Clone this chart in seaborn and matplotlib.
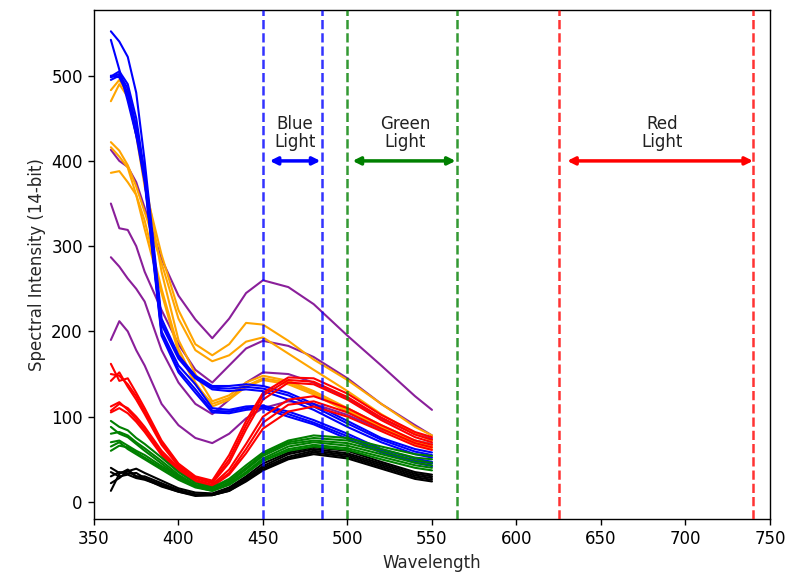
import matplotlib
matplotlib.use("Agg")
import matplotlib.pyplot as plt
import numpy as np
import pandas as pd
import seaborn as sns

# Sampled wavelengths (nm) shared by every spectrum
wavelength = [360, 365, 370, 375, 380, 390, 400, 410, 420, 430, 440, 450, 465, 480, 500, 520, 540, 550]

# Spectra grouped by the colour of the sample
blue_spectra = [
    [552, 540, 522, 480, 400, 215, 172, 148, 136, 136, 138, 136, 128, 115, 95, 75, 62, 58],
    [542, 507, 470, 430, 390, 210, 170, 146, 134, 133, 135, 133, 125, 112, 92, 73, 59, 55],
    [499, 505, 490, 450, 385, 208, 168, 145, 132, 130, 132, 130, 120, 108, 88, 70, 56, 52],
    [498, 502, 485, 440, 380, 200, 160, 138, 110, 108, 112, 113, 106, 96, 80, 62, 51, 47],
    [495, 500, 480, 435, 378, 198, 155, 132, 107, 106, 110, 112, 103, 93, 77, 60, 48, 45],
    [500, 498, 478, 430, 375, 195, 152, 128, 105, 104, 108, 110, 100, 91, 74, 58, 46, 42],
]
orange_spectra = [
    [483, 495, 478, 430, 370, 290, 225, 185, 172, 185, 210, 208, 189, 167, 143, 115, 88, 78],
    [422, 412, 395, 370, 340, 280, 215, 178, 165, 172, 188, 193, 174, 155, 130, 103, 80, 72],
    [470, 490, 475, 440, 380, 270, 190, 150, 118, 125, 140, 148, 142, 130, 110, 90, 72, 67],
    [386, 388, 375, 360, 330, 250, 180, 140, 112, 120, 135, 143, 138, 126, 106, 86, 68, 62],
    [416, 405, 392, 360, 320, 245, 175, 138, 115, 122, 136, 145, 140, 128, 108, 88, 70, 65],
]
purple_spectra = [
    [413, 400, 393, 375, 345, 285, 242, 214, 192, 215, 245, 260, 252, 232, 195, 160, 124, 108],
    [350, 321, 319, 300, 270, 225, 185, 155, 140, 160, 180, 189, 183, 170, 145, 115, 90, 78],
    [287, 276, 262, 250, 235, 178, 140, 115, 103, 120, 140, 152, 150, 140, 122, 98, 80, 74],
    [190, 212, 200, 178, 160, 115, 90, 75, 69, 80, 98, 110, 118, 115, 102, 85, 72, 68],
]
red_spectra = [
    [162, 142, 145, 128, 110, 72, 45, 30, 25, 55, 95, 128, 146, 145, 127, 102, 82, 76],
    [150, 148, 138, 124, 106, 70, 44, 29, 23, 50, 90, 125, 143, 141, 123, 99, 79, 73],
    [142, 152, 135, 120, 103, 67, 42, 28, 22, 46, 85, 120, 140, 138, 120, 96, 76, 70],
    [107, 115, 110, 100, 88, 60, 40, 26, 20, 38, 68, 100, 120, 124, 110, 90, 72, 67],
    [112, 117, 108, 97, 85, 57, 38, 25, 19, 34, 62, 93, 114, 118, 105, 86, 69, 64],
    [105, 110, 104, 94, 82, 55, 36, 24, 18, 32, 57, 86, 106, 112, 100, 83, 66, 61],
]
black_spectra = [
    [40, 34, 36, 39, 34, 25, 16, 11, 10, 17, 30, 45, 58, 64, 60, 47, 35, 32],
    [13, 33, 38, 30, 30, 22, 14, 9, 9, 16, 28, 42, 56, 62, 57, 45, 33, 30],
    [30, 35, 33, 34, 28, 20, 13, 8, 8, 14, 26, 40, 53, 60, 55, 43, 31, 28],
    [22, 28, 36, 30, 27, 18, 12, 8, 8, 13, 25, 38, 51, 58, 53, 41, 29, 26],
    [35, 30, 32, 28, 26, 19, 12, 7, 8, 13, 24, 37, 50, 56, 51, 39, 27, 24],
]
green_spectra = [
    [95, 88, 84, 75, 68, 52, 35, 22, 17, 27, 43, 58, 72, 78, 75, 65, 56, 54],
    [80, 82, 78, 70, 63, 48, 32, 20, 16, 25, 40, 56, 70, 75, 72, 62, 52, 50],
    [88, 80, 76, 68, 60, 45, 30, 18, 14, 23, 38, 54, 68, 72, 69, 59, 49, 46],
    [60, 66, 64, 58, 52, 40, 28, 18, 13, 21, 35, 51, 65, 70, 66, 56, 46, 43],
    [65, 70, 62, 56, 50, 38, 26, 17, 13, 20, 33, 49, 62, 67, 63, 53, 43, 40],
    [70, 72, 66, 60, 55, 42, 30, 19, 14, 21, 34, 48, 60, 65, 61, 50, 40, 37],
]

groups = [
    ("purple", purple_spectra),
    ("orange", orange_spectra),
    ("blue", blue_spectra),
    ("red", red_spectra),
    ("black", black_spectra),
    ("green", green_spectra),
]
group_colors = {"purple": "#8a1f9a", "orange": "orange", "blue": "blue",
                "red": "red", "black": "black", "green": "green"}

# Light bands: labels, colours, dashed edges, arrow spans and label positions
band_labels = ["Blue\nLight", "Green\nLight", "Red\nLight"]
band_colors = ["blue", "green", "red"]
band_edges = [(450, 485), (500, 565), (625, 740)]
arrow_spans = [(454, 484), (503, 564), (630, 740)]
label_x = [469, 534, 686]
arrow_y = 400
label_y = 433

x_ticks = [350, 400, 450, 500, 550, 600, 650, 700, 750]
y_ticks = [0, 100, 200, 300, 400, 500]

# Long-form table: one row per sample point
rows = []
palette = {}
for color, spectra in groups:
    for i, spec in enumerate(spectra):
        name = f"{color}_{i}"
        palette[name] = group_colors[color]
        for wl, val in zip(wavelength, spec):
            rows.append({"Wavelength": wl, "Intensity": val, "sample": name})
df = pd.DataFrame(rows)

sns.set_style("white")
plt.rcParams.update({
    "font.family": ["DejaVu Sans"],
    "font.size": 12,
    "axes.edgecolor": "black",
    "axes.linewidth": 1.0,
    "xtick.color": "black",
    "ytick.color": "black",
    "xtick.major.size": 4.5,
    "ytick.major.size": 4.5,
    "xtick.major.width": 1.0,
    "ytick.major.width": 1.0,
    "xtick.bottom": True,
    "ytick.left": True,
})

fig = plt.figure(figsize=(7.91, 5.78), dpi=100)
ax = fig.add_axes([0.1188, 0.1021, 0.8546, 0.8806])

sns.lineplot(data=df, x="Wavelength", y="Intensity", hue="sample",
             hue_order=list(palette.keys()), palette=palette,
             estimator=None, sort=False, legend=False, linewidth=1.5, ax=ax)

for color, (lo, hi) in zip(band_colors, band_edges):
    for edge in (lo, hi):
        ax.axvline(edge, color=color, linestyle="--", linewidth=1.8, alpha=0.8, zorder=5)

for text, color, (a0, a1), lx in zip(band_labels, band_colors, arrow_spans, label_x):
    ax.annotate("", xy=(a1, arrow_y), xytext=(a0, arrow_y),
                arrowprops=dict(arrowstyle="<|-|>", color=color, lw=2.5,
                                mutation_scale=11, shrinkA=0, shrinkB=0))
    ax.text(lx, label_y, text, ha="center", va="center", fontsize=12,
            color="#222222", linespacing=1.0)

ax.set_xlim(350, 750)
ax.set_ylim(-20, 577)
ax.set_xticks(x_ticks)
ax.set_yticks(y_ticks)
ax.set_xlabel("Wavelength", fontsize=12)
ax.set_ylabel("Spectral Intensity (14-bit)", fontsize=12)
for side in ["top", "right", "bottom", "left"]:
    ax.spines[side].set_visible(True)
    ax.spines[side].set_color("black")

fig.savefig("out.png", dpi=100)
